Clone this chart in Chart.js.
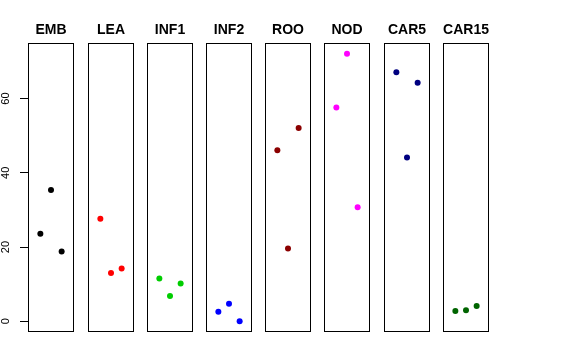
<!DOCTYPE html>
<html>
<head>
<meta charset="utf-8">
<script src="https://cdn.jsdelivr.net/npm/chart.js@4.4.1/dist/chart.umd.min.js"></script>
<style>
  html, body { margin: 0; padding: 0; background: #fff; }
  #wrap { position: relative; width: 576px; height: 360px; overflow: hidden; background: #fff; }
  #wrap canvas { position: absolute; top: 0; }
</style>
</head>
<body>
<div id="wrap"></div>
<script>
// ── Data ─────────────────────────────────────────
const panels = ['EMB', 'LEA', 'INF1', 'INF2', 'ROO', 'NOD', 'CAR5', 'CAR15'];
const panelColors = ['#000000', '#ff0000', '#00cd00', '#0000ff', '#8b0000', '#ff00ff', '#000080', '#006400'];
const xPos = [1, 2, 3];
const embVals = [23.6, 35.4, 18.8];
const leaVals = [27.6, 13.0, 14.2];
const inf1Vals = [11.5, 6.8, 10.2];
const inf2Vals = [2.6, 4.7, 0.0];
const rooVals = [46.1, 19.6, 52.1];
const nodVals = [57.6, 72.1, 30.7];
const car5Vals = [67.1, 44.1, 64.3];
const car15Vals = [2.8, 3.0, 4.1];
const yTicks = [0, 20, 40, 60];

const seriesVals = [embVals, leaVals, inf1Vals, inf2Vals, rooVals, nodVals, car5Vals, car15Vals];

// ── Layout ───────────────────────────────────────
const SIDE = 29;          // room left of the first box for the y axis
const BOX_X0 = 28.4;
const BOX_STEP = 59.2;
const BOX_W = 46;
const CANVAS_H = 360;
const AREA_TOP = 43;
const AREA_BOTTOM = 332;
const FONT = 'Liberation Sans, Arial, sans-serif';

// R-style axis limits (4% expansion)
const allVals = seriesVals.flat();
const yLo = Math.min(...allVals), yHi = Math.max(...allVals);
const yPad = (yHi - yLo) * 0.04;
const xPad = (4 - 0) * 0.04;

// frame + panel title, centred on the plot area
const boxPlugin = {
  id: 'box',
  afterDraw(chart, args, opts) {
    const { ctx, chartArea: a } = chart;
    ctx.save();
    ctx.strokeStyle = '#000';
    ctx.lineWidth = 1;
    ctx.strokeRect(a.left + 0.5, a.top + 0.5, a.right - a.left - 1, a.bottom - a.top - 1);
    ctx.fillStyle = '#000';
    ctx.font = 'bold 14px ' + FONT;
    ctx.textAlign = 'center';
    ctx.textBaseline = 'alphabetic';
    ctx.fillText(opts.title, (a.left + a.right) / 2, a.top - 9);
    ctx.restore();
  },
};

const wrap = document.getElementById('wrap');

panels.forEach((name, i) => {
  const first = i === 0;
  const boxLeft = Math.round(BOX_X0 + i * BOX_STEP);
  const canvas = document.createElement('canvas');
  canvas.width = BOX_W + (first ? SIDE : 0);
  canvas.height = CANVAS_H;
  canvas.style.left = (boxLeft - (first ? SIDE : 0)) + 'px';
  wrap.appendChild(canvas);

  new Chart(canvas.getContext('2d'), {
    type: 'scatter',
    data: {
      datasets: [{
        data: xPos.map((x, k) => ({ x, y: seriesVals[i][k] })),
        backgroundColor: panelColors[i],
        borderWidth: 0,
        pointRadius: 3,
        pointHoverRadius: 3,
      }],
    },
    plugins: [boxPlugin],
    options: {
      responsive: false,
      animation: false,
      events: [],
      layout: {
        autoPadding: false,
        padding: { left: 0, right: 0, top: AREA_TOP, bottom: CANVAS_H - AREA_BOTTOM },
      },
      plugins: {
        legend: { display: false },
        tooltip: { enabled: false },
        box: { title: name },
      },
      scales: {
        x: { type: 'linear', min: 0 - xPad, max: 4 + xPad, display: false },
        y: {
          type: 'linear',
          min: yLo - yPad,
          max: yHi + yPad,
          display: first,
          afterFit: (s) => { if (first) s.width = SIDE; },
          afterBuildTicks: (s) => { s.ticks = yTicks.map((v) => ({ value: v })); },
          border: { display: false },
          grid: { drawOnChartArea: false, drawTicks: true, tickLength: 8, color: '#000', lineWidth: 1 },
          ticks: {
            color: '#000',
            font: { family: FONT, size: 11 },
            minRotation: 90,
            maxRotation: 90,
            crossAlign: 'center',
            padding: 8,
          },
        },
      },
    },
  });
});
</script>
</body>
</html>
